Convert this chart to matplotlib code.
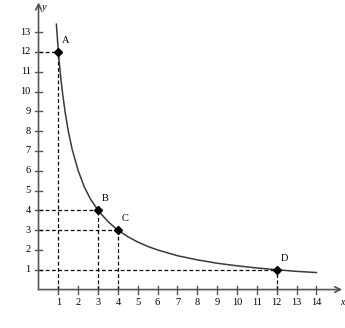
import matplotlib.pyplot as plt

# curve
curve_x = [0.9, 1.0, 1.1, 1.2, 1.35, 1.5, 1.7, 2.0, 2.3, 2.6, 3.0, 3.5, 4.0, 4.5,
           5.0, 5.5, 6.0, 7.0, 8.0, 9.0, 10.0, 11.0, 12.0, 13.0, 14.0]
curve_y = [13.4, 12.0, 10.9, 10.0, 8.9, 8.0, 7.06, 6.0, 5.2, 4.6, 4.0, 3.43, 3.0, 2.67,
           2.4, 2.18, 2.0, 1.71, 1.5, 1.33, 1.2, 1.09, 1.0, 0.92, 0.86]

# labelled points
point_names = ["A", "B", "C", "D"]
point_x = [1, 3, 4, 12]
point_y = [12, 4, 3, 1]

x_ticks = list(range(1, 15))
y_ticks = list(range(1, 14))

plt.rcParams['font.family'] = ['Liberation Serif', 'DejaVu Serif']

fig = plt.figure(figsize=(3.45, 3.28), dpi=100)
ax = fig.add_axes([0, 0, 1, 1])
ax.set_xlim(-1.94, 15.44)
ax.set_ylim(-1.94, 14.62)
ax.axis("off")

axis_col = "#555555"

# axes with arrows
ax.annotate("", xy=(15.3, 0), xytext=(0, 0),
            arrowprops=dict(arrowstyle="->", color=axis_col, lw=1.2, shrinkA=0, shrinkB=0))
ax.annotate("", xy=(0, 14.5), xytext=(0, 0),
            arrowprops=dict(arrowstyle="->", color=axis_col, lw=1.2, shrinkA=0, shrinkB=0))
ax.text(15.3, -0.63, "x", fontsize=7, style="italic", ha="center", va="center")
ax.text(0.3, 14.25, "y", fontsize=7.5, style="italic", ha="center", va="center")

# ticks
for t in x_ticks:
    ax.plot([t, t], [-0.2, 0.2], color=axis_col, lw=1.0)
    ax.text(t, -0.66, str(t), fontsize=7.5, ha="center", va="center")
for t in y_ticks:
    ax.plot([-0.2, 0.2], [t, t], color=axis_col, lw=1.0)
    ax.text(-0.4, t, str(t), fontsize=7.5, ha="right", va="center")

# dashed guides
for px, py in zip(point_x, point_y):
    ax.plot([px, px], [0, py], color="black", lw=0.9, ls=(0, (3, 2)))
    ax.plot([0, px], [py, py], color="black", lw=0.9, ls=(0, (3, 2)))

# curve
ax.plot(curve_x, curve_y, color="#3a3a3a", lw=1.1)

# points and labels
ax.plot(point_x, point_y, "D", color="black", markersize=4)
for name, px, py in zip(point_names, point_x, point_y):
    ax.text(px + 0.2, py + 0.35, name, fontsize=7.5, ha="left", va="bottom")

fig.savefig("out.png", dpi=100)
